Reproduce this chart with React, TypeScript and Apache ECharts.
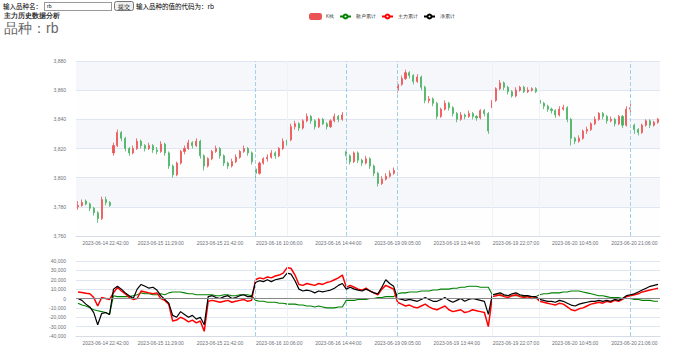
import React, { useEffect, useRef } from "react";
import * as echarts from "echarts";

const tickIndices = [7, 21, 36, 51, 66, 81, 96, 111, 126, 141];
const tickLabels = [
  "2023-06-14 22:42:00",
  "2023-06-15 11:29:00",
  "2023-06-15 21:42:00",
  "2023-06-16 10:06:00",
  "2023-06-16 14:44:00",
  "2023-06-19 09:05:00",
  "2023-06-19 13:44:00",
  "2023-06-19 22:07:00",
  "2023-06-20 10:45:00",
  "2023-06-20 21:06:00",
];
const sessionBreaks = [45, 68, 81, 140];
const minorBreaks = [53, 105, 117];

// [open, close, low, high]
const kData = [
  [3780,3781,3778,3784],[3781,3783,3780,3785],[3784,3782,3781,3785],[3782,3779,3777,3783],[3779,3776,3774,3780],
  [3776,3772,3769,3777],[3772,3785,3771,3787],[3785,3783,3781,3787],[3783,3781,3780,3784],
  [3817,3822,3815,3824],[3822,3831,3821,3833],[3831,3827,3825,3832],[3827,3820,3818,3828],[3820,3817,3815,3821],
  [3817,3820,3816,3822],[3820,3825,3819,3827],[3825,3822,3820,3826],[3822,3820,3818,3823],[3820,3822,3819,3824],
  [3822,3819,3817,3823],[3819,3818,3816,3821],[3818,3823,3817,3825],[3823,3817,3815,3824],[3817,3808,3806,3818],
  [3808,3802,3800,3809],[3802,3810,3801,3811],[3810,3818,3809,3819],
  [3818,3820,3816,3822],[3820,3824,3819,3826],[3824,3822,3820,3825],[3822,3825,3821,3827],[3825,3815,3813,3826],
  [3815,3808,3805,3816],[3808,3813,3807,3814],[3813,3818,3812,3819],[3818,3820,3817,3822],[3820,3815,3813,3821],
  [3815,3810,3808,3816],[3810,3808,3806,3811],[3808,3811,3807,3813],[3811,3814,3810,3816],[3814,3818,3813,3819],
  [3818,3820,3817,3822],[3820,3817,3815,3821],[3817,3811,3809,3818],
  [3806,3803,3800,3808],[3803,3810,3802,3811],[3810,3813,3809,3814],[3813,3814,3811,3816],[3814,3817,3813,3819],
  [3817,3815,3813,3818],[3815,3820,3814,3821],[3820,3825,3819,3827],[3825,3824,3822,3826],[3826,3835,3825,3837],
  [3835,3837,3833,3839],[3837,3834,3832,3838],[3834,3839,3833,3840],[3839,3842,3838,3844],[3842,3839,3837,3843],
  [3839,3835,3833,3840],[3835,3840,3834,3841],[3840,3837,3836,3841],[3837,3835,3833,3838],[3835,3839,3834,3840],
  [3839,3842,3838,3844],[3842,3840,3838,3843],[3840,3843,3839,3845],
  [3818,3815,3812,3820],[3815,3811,3809,3816],[3811,3817,3810,3818],[3817,3812,3810,3818],[3812,3810,3808,3813],
  [3810,3813,3809,3815],[3813,3808,3806,3814],[3808,3803,3801,3809],[3803,3796,3794,3804],[3796,3799,3795,3801],
  [3799,3801,3798,3803],[3801,3803,3800,3805],[3803,3805,3802,3807],
  [3860,3864,3858,3866],[3864,3868,3863,3870],[3868,3872,3867,3874],[3872,3870,3868,3873],[3870,3866,3864,3871],
  [3866,3869,3865,3871],[3869,3862,3860,3870],[3862,3853,3851,3863],[3853,3854,3851,3856],[3854,3851,3849,3855],
  [3851,3842,3840,3852],[3842,3847,3841,3848],[3847,3851,3846,3853],[3851,3848,3846,3852],[3848,3844,3842,3849],
  [3844,3840,3838,3845],[3840,3843,3839,3845],[3843,3842,3840,3844],[3842,3844,3841,3846],[3844,3842,3840,3845],
  [3842,3841,3839,3843],[3841,3846,3840,3847],[3846,3844,3842,3847],
  [3844,3832,3830,3845],
  [3848,3853,3847,3855],[3853,3861,3852,3862],[3861,3865,3860,3867],[3865,3862,3860,3866],[3862,3859,3857,3863],
  [3859,3856,3855,3860],[3856,3860,3855,3862],[3860,3862,3859,3863],[3862,3859,3858,3863],[3859,3860,3858,3862],
  [3860,3861,3859,3862],[3861,3859,3858,3862],
  [3853,3851,3849,3854],[3851,3849,3847,3852],[3849,3847,3845,3850],[3847,3846,3844,3848],[3846,3843,3841,3847],
  [3843,3847,3842,3849],[3847,3848,3846,3850],[3848,3840,3838,3849],[3840,3827,3822,3841],[3827,3825,3823,3828],
  [3825,3827,3824,3829],[3827,3832,3826,3833],[3832,3833,3830,3835],[3833,3837,3832,3838],[3837,3840,3836,3842],
  [3840,3844,3839,3845],[3844,3842,3840,3845],[3842,3839,3837,3843],[3839,3840,3838,3842],[3840,3837,3835,3841],
  [3837,3842,3836,3843],[3842,3836,3834,3843],[3836,3847,3835,3849],[3847,3848,3844,3851],
  [3836,3833,3830,3837],[3833,3831,3829,3834],[3831,3836,3830,3837],[3836,3839,3835,3840],[3839,3836,3834,3840],
  [3836,3838,3835,3839],[3838,3840,3837,3841],
];

const retailCum = [
  -5000,-7000,-8000,-10000,-12000,-13000,-14000,-15000,-17000,
  3000,2000,2000,2000,2000,3000,4000,6000,5000,5000,4000,4000,5000,4000,6000,7000,7000,7000,
  6000,5000,5000,4000,4000,4000,4000,4000,3000,3000,4000,4000,3000,3000,4000,4000,4000,3000,
  -2000,-3000,-3000,-4000,-4000,-4000,-5000,-5000,-6000,-6000,-6000,-7000,-7000,-8000,-8000,-9000,-8000,-9000,-10000,-10000,-10000,-9000,-9000,
  -2000,-2000,-2000,-1000,-1000,-1000,0,0,1000,1000,2000,2000,2000,
  5000,6000,6000,7000,7000,7000,8000,8000,8000,9000,9000,10000,10000,10000,11000,11000,12000,12000,13000,13000,13000,12000,12000,
  12000,
  4000,4000,3000,3000,3000,3000,3000,3000,2000,2000,2000,2000,
  4000,5000,5000,6000,6000,6000,7000,7000,8000,8000,8000,7000,6000,5000,4000,3000,3000,2000,1000,1000,1000,0,0,0,
  -1000,-1000,-2000,-2000,-2000,-3000,-3000,
];

const mainCum = [
  7000,6500,5500,5000,1000,-8000,1000,0,-1000,
  6000,12000,8000,5000,1000,-1000,0,8000,7000,6000,5000,6000,0,-2000,-6000,-24000,-23000,-20000,
  -22000,-25000,-23000,-26000,-24000,-35000,-3000,-2000,-3000,-4000,-3000,-2000,-4000,-3000,-2000,-1000,-3000,-2000,
  20000,22000,21000,23000,22000,24000,25000,27000,33000,32000,25000,15000,14000,16000,15000,14000,16000,15000,17000,18000,20000,22000,25000,
  12000,14000,12000,10000,9000,11000,8000,6000,4000,10000,14000,12000,10000,
  -4000,-6000,-8000,-7000,-9000,-10000,-8000,-6000,-9000,-11000,-12000,-10000,-8000,-12000,-14000,-13000,-12000,-15000,-14000,-12000,-13000,-14000,-15000,
  -30000,
  2000,3000,4000,2000,1000,3000,4000,2000,1000,2000,0,1000,
  -3000,-4000,-5000,-6000,-7000,-5000,-6000,-9000,-12000,-13000,-11000,-10000,-8000,-6000,-5000,-4000,-5000,-3000,-4000,-2000,-3000,-1000,2000,3000,
  4000,5000,7000,8000,9000,10000,11000,
];

const totalCum = [
  0,-2000,-6000,-9000,-15000,-28000,-16000,-15000,-17000,
  10000,13000,10000,6000,3000,0,10000,15000,13000,11000,12000,9000,3000,-1000,-5000,-18000,-20000,-14000,
  -17000,-20000,-18000,-22000,-20000,-28000,2000,3000,1000,0,2000,3000,0,1000,3000,4000,2000,2000,
  17000,19000,18000,20000,18000,20000,21000,22000,27000,26000,19000,10000,8000,9000,8000,6000,8000,7000,8000,9000,11000,14000,16000,
  10000,12000,10000,9000,8000,10000,8000,6000,5000,12000,20000,16000,13000,
  0,-1000,-2000,-1000,-2000,-3000,-1000,1000,-1000,-3000,-3000,-1000,1000,-2000,-4000,-2000,0,-3000,-1000,0,-1000,-2000,-3000,
  -17000,
  4000,5000,6000,4000,3000,5000,6000,4000,3000,3000,2000,2000,
  -1000,-2000,-3000,-3000,-4000,-2000,-3000,-5000,-7000,-8000,-6000,-5000,-4000,-3000,-3000,-2000,-3000,-2000,-3000,-1000,-2000,0,3000,4000,
  5000,7000,9000,11000,13000,14000,15000,
];

const categories = kData.map((_, i) => {
  const k = tickIndices.indexOf(i);
  return k >= 0 ? tickLabels[k] : "#" + i;
});

const showTick = (i: number) => tickIndices.indexOf(i) >= 0;

export default function App() {
  const ref = useRef<HTMLDivElement>(null);
  useEffect(() => {
    document.body.style.margin = "0";
    const chart = echarts.init(ref.current!, null, { renderer: "svg" });
    const axisLabelStyle = { fontSize: 5, color: "#6E7079" };
    const breakLine = {
      symbol: "none",
      silent: true,
      label: { show: false },
      data: [
        ...sessionBreaks.map((b) => ({ xAxis: b, lineStyle: { type: "dashed", color: "#9fd3ea", width: 1 } })),
        ...minorBreaks.map((b) => ({ xAxis: b, lineStyle: { type: "solid", color: "#eef1f6", width: 1 } })),
      ],
    };
    chart.setOption({
      animation: false,
      title: [
        { text: "主力历史数据分析", left: 4, top: 12, padding: 0, textStyle: { fontSize: 7, fontWeight: "bold", color: "#333" } },
        { text: "品种：rb", left: 4, top: 21, padding: 0, textStyle: { fontSize: 14, fontWeight: "normal", color: "#666" } },
      ],
      legend: {
        top: 13,
        left: 309,
        padding: 0,
        itemWidth: 11,
        itemHeight: 5,
        itemGap: 5,
        textStyle: { fontSize: 4.5, color: "#333" },
        data: ["K线", "散户累计", "主力累计", "净累计"],
      },
      grid: [
        { left: 76, right: 34, top: 61, height: 175 },
        { left: 76, right: 34, top: 261, height: 75 },
      ],
      xAxis: [
        {
          type: "category",
          gridIndex: 0,
          data: categories,
          boundaryGap: true,
          axisLine: { lineStyle: { color: "#d6dbe5" } },
          axisTick: { interval: (i: number) => showTick(i), lineStyle: { color: "#6E7079" } },
          axisLabel: { ...axisLabelStyle, interval: (i: number) => showTick(i), margin: 4 },
          splitLine: { show: false },
        },
        {
          type: "category",
          gridIndex: 1,
          data: categories,
          boundaryGap: true,
          axisLine: { onZero: false, lineStyle: { color: "#d6dbe5" } },
          axisTick: { show: false },
          axisLabel: { ...axisLabelStyle, interval: (i: number) => showTick(i), margin: 4 },
        },
      ],
      yAxis: [
        {
          type: "value",
          gridIndex: 0,
          min: 3760,
          max: 3880,
          interval: 20,
          axisLabel: { ...axisLabelStyle, margin: 10 },
          splitLine: { lineStyle: { color: "#E0E6F1" } },
          splitArea: { show: true, areaStyle: { color: ["rgba(252,252,252,0.3)", "rgba(210,219,238,0.22)"] } },
        },
        {
          type: "value",
          gridIndex: 1,
          min: -40000,
          max: 40000,
          interval: 10000,
          axisLabel: { ...axisLabelStyle, margin: 10 },
          splitLine: { lineStyle: { color: "#E0E6F1" } },
        },
      ],
      series: [
        {
          name: "K线",
          type: "candlestick",
          xAxisIndex: 0,
          yAxisIndex: 0,
          barWidth: "40%",
          itemStyle: { borderWidth: 0.8 },
          data: kData,
          markLine: breakLine,
        },
        {
          name: "散户累计",
          type: "line",
          xAxisIndex: 1,
          yAxisIndex: 1,
          showSymbol: false,
          symbol: "emptyCircle",
          symbolSize: 4,
          color: "#008000",
          lineStyle: { width: 1.1, color: "#008000" },
          data: retailCum,
        },
        {
          name: "主力累计",
          type: "line",
          xAxisIndex: 1,
          yAxisIndex: 1,
          showSymbol: false,
          symbol: "emptyCircle",
          symbolSize: 4,
          color: "#ff0000",
          lineStyle: { width: 1.5, color: "#ff0000" },
          data: mainCum,
          markLine: breakLine,
        },
        {
          name: "净累计",
          type: "line",
          xAxisIndex: 1,
          yAxisIndex: 1,
          showSymbol: false,
          symbol: "emptyCircle",
          symbolSize: 4,
          color: "#000000",
          lineStyle: { width: 1.2, color: "#000000" },
          data: totalCum,
          markLine: {
            symbol: "none",
            silent: true,
            label: { show: false },
            lineStyle: { type: "solid", color: "#888", width: 1 },
            data: [{ yAxis: 0 }],
          },
        },
      ],
    });
    return () => chart.dispose();
  }, []);

  return (
    <div style={{ position: "relative", width: 694, height: 353 }}>
      <div ref={ref} style={{ position: "absolute", left: 0, top: 0, width: 694, height: 353 }} />
      <div
        style={{
          position: "absolute",
          left: 3,
          top: 1,
          zIndex: 2,
          display: "flex",
          alignItems: "center",
          fontSize: 6.5,
          fontFamily: "'Noto Sans CJK SC', sans-serif",
          color: "#000",
          lineHeight: "10px",
        }}
      >
        <span>输入品种名：</span>
        <input
          defaultValue="rb"
          style={{ width: 62, height: 7, fontSize: 5, padding: "0 2px", margin: "0 2px 0 2px", border: "1px solid #999" }}
        />
        <button style={{ fontSize: 5.5, padding: "0 2px", height: 10, lineHeight: "8px", margin: "0 2px 0 0" }}>提交</button>
        <span>输入品种的值的代码为：rb</span>
      </div>
    </div>
  );
}
